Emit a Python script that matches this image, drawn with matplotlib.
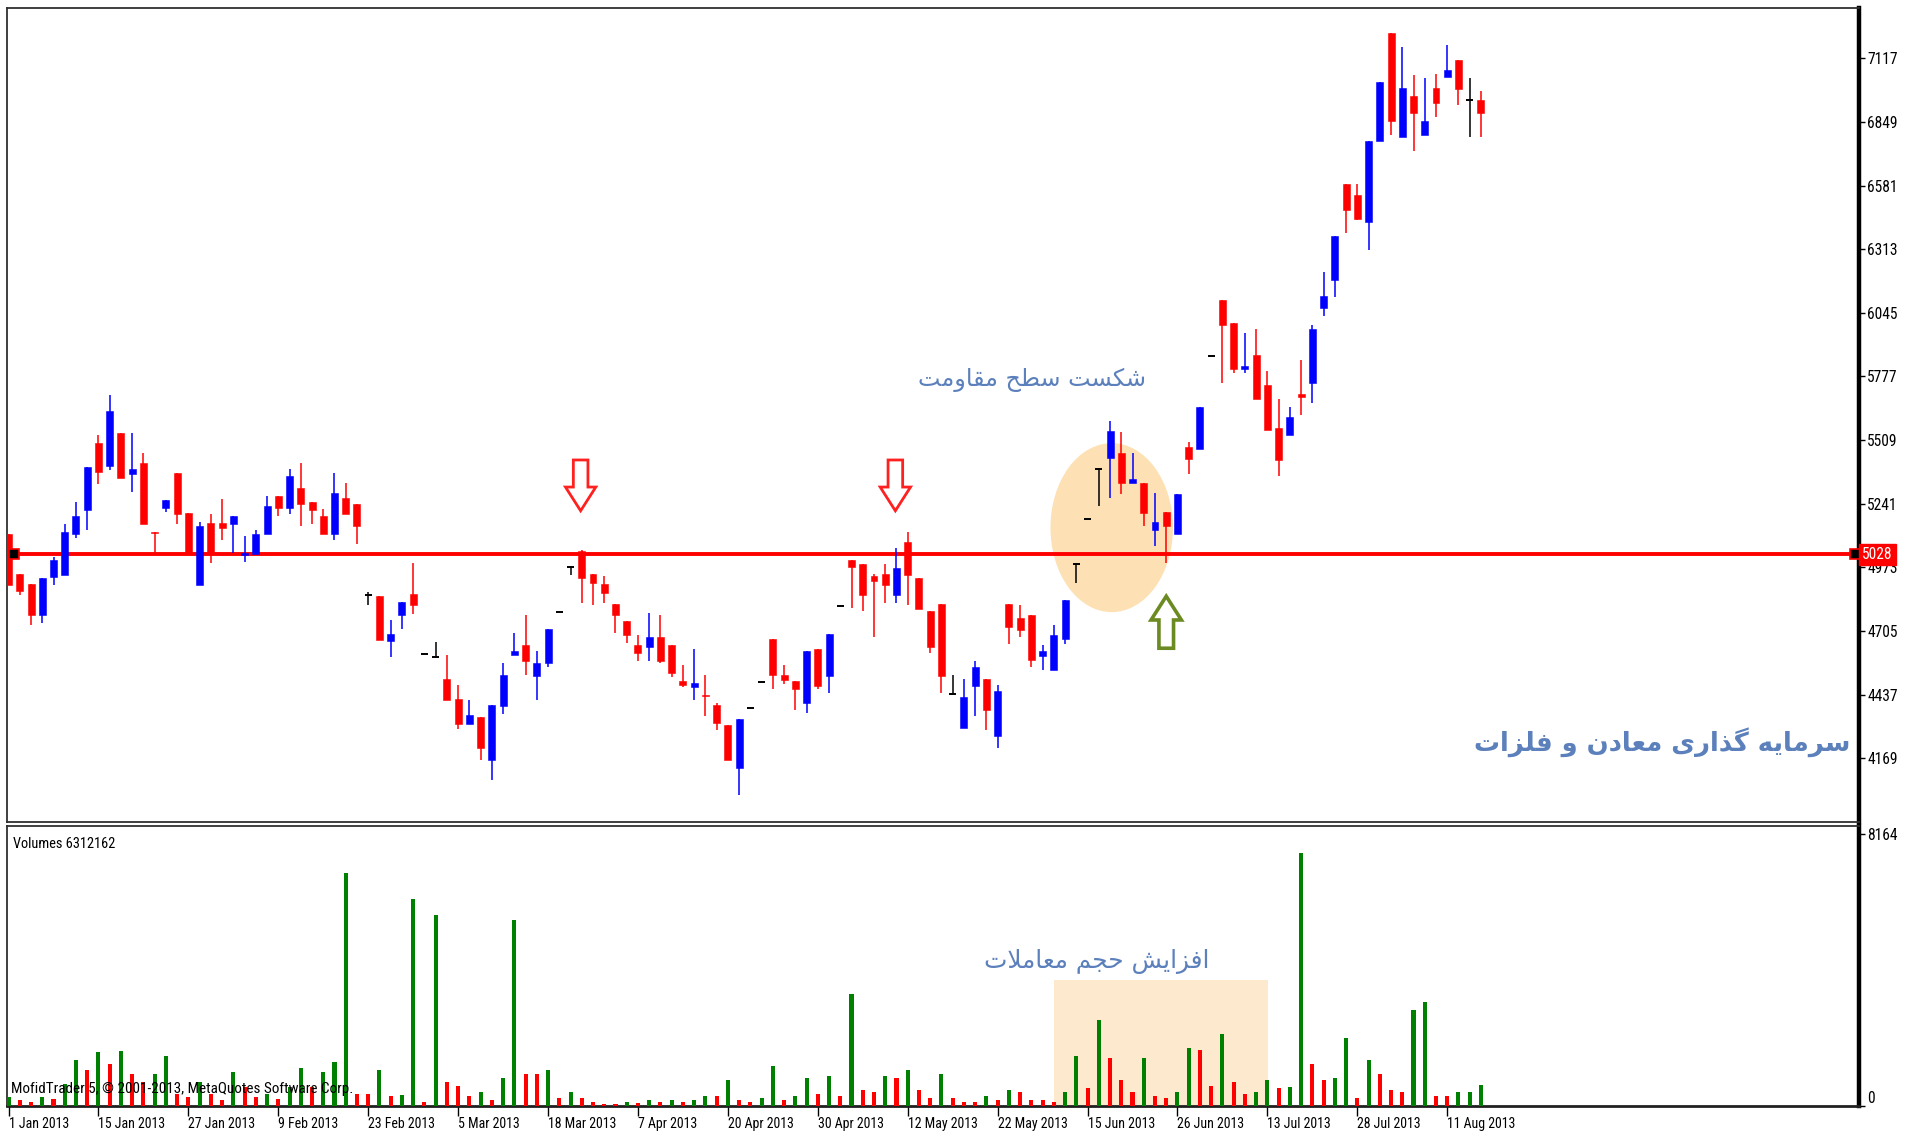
import numpy as np
import matplotlib
matplotlib.use("Agg")
import matplotlib.pyplot as plt
from matplotlib import font_manager as fm
from matplotlib.patches import Ellipse, Rectangle, FancyArrow

# ---------------- data ----------------
date_labels = ['1 Jan 2013', '15 Jan 2013', '27 Jan 2013', '9 Feb 2013', '23 Feb 2013',
               '5 Mar 2013', '18 Mar 2013', '7 Apr 2013', '20 Apr 2013', '30 Apr 2013',
               '12 May 2013', '22 May 2013', '15 Jun 2013', '26 Jun 2013', '13 Jul 2013',
               '28 Jul 2013', '11 Aug 2013']
date_label_bars = [0, 8, 16, 24, 32, 40, 48, 56, 64, 72, 80, 88, 96, 104, 112, 120, 128]

opens = [5112, 4946, 4904, 4771, 4932, 4939, 5115, 5216, 5497, 5399,
         5539, 5365, 5413, 5120, 5223, 5372, 5203, 4897, 5161, 5161,
         5157, 5025, 5031, 5115, 5272, 5223, 5305, 5248, 5188, 5115,
         5263, 5239, 4855, 4852, 4663, 4774, 4862, 4609, 4595, 4504,
         4420, 4312, 4343, 4160, 4387, 4605, 4644, 4514, 4571, 4785,
         4974, 5040, 4946, 4904, 4820, 4747, 4644, 4637, 4680, 4644,
         4494, 4469, 4435, 4394, 4310, 4128, 4382, 4490, 4670, 4518,
         4493, 4403, 4628, 4514, 4809, 5003, 4988, 4935, 4944, 4855,
         5080, 4928, 4788, 4820, 4441, 4296, 4473, 4501, 4261, 4820,
         4761, 4771, 4598, 4539, 4670, 4986, 5178, 5386, 5434, 5455,
         5326, 5329, 5132, 5204, 5115, 5480, 5473, 5862, 6098, 6000,
         5810, 5867, 5740, 5558, 5532, 5705, 5750, 6067, 6185, 6586,
         6543, 6428, 6770, 7222, 6786, 6959, 6796, 6993, 7039, 7110,
         6941, 6941]
highs = [5112, 4946, 4904, 4928, 5017, 5154, 5246, 5396, 5532, 5698,
         5539, 5539, 5455, 5120, 5255, 5372, 5203, 5164, 5196, 5262,
         5188, 5105, 5129, 5272, 5272, 5389, 5413, 5248, 5220, 5372,
         5330, 5239, 4869, 4852, 4753, 4827, 4989, 4609, 4659, 4605,
         4479, 4413, 4343, 4392, 4570, 4696, 4771, 4621, 4712, 4785,
         4974, 5045, 4946, 4937, 4820, 4747, 4687, 4781, 4771, 4644,
         4560, 4630, 4518, 4401, 4310, 4336, 4382, 4490, 4670, 4560,
         4493, 4619, 4628, 4694, 4809, 5003, 4988, 4946, 4988, 5056,
         5122, 4928, 4788, 4820, 4518, 4504, 4578, 4501, 4479, 4820,
         4813, 4771, 4645, 4729, 4837, 4986, 5178, 5386, 5590, 5541,
         5456, 5329, 5288, 5204, 5280, 5499, 5649, 5862, 6098, 6000,
         5958, 5975, 5799, 5681, 5649, 5848, 5993, 6218, 6368, 6586,
         6586, 6770, 7018, 7222, 7163, 7046, 7036, 7053, 7173, 7110,
         7035, 6979]
lows = [4897, 4855, 4729, 4739, 4897, 4939, 5098, 5132, 5323, 5382,
        5350, 5291, 5157, 5034, 5206, 5154, 5031, 4897, 4989, 5090,
        5035, 4996, 5031, 5115, 5188, 5199, 5147, 5157, 5115, 5090,
        5199, 5073, 4813, 4666, 4595, 4712, 4778, 4609, 4595, 4413,
        4293, 4312, 4160, 4076, 4354, 4605, 4521, 4413, 4553, 4785,
        4939, 4823, 4813, 4823, 4696, 4654, 4578, 4578, 4570, 4511,
        4469, 4413, 4347, 4286, 4163, 4012, 4382, 4490, 4462, 4480,
        4370, 4361, 4462, 4445, 4809, 4803, 4789, 4680, 4823, 4823,
        4813, 4796, 4613, 4445, 4441, 4296, 4345, 4286, 4212, 4648,
        4680, 4553, 4539, 4539, 4648, 4907, 5178, 5230, 5265, 5281,
        5326, 5147, 5063, 4989, 5115, 5365, 5473, 5862, 5750, 5792,
        5792, 5680, 5551, 5357, 5532, 5614, 5666, 6032, 6110, 6383,
        6435, 6309, 6770, 6793, 6786, 6727, 6796, 6871, 7039, 6920,
        6786, 6786]
closes = [4897, 4873, 4771, 4928, 5005, 5122, 5188, 5396, 5375, 5632,
          5350, 5389, 5157, 5117, 5255, 5199, 5031, 5147, 5031, 5140,
          5188, 5032, 5112, 5230, 5223, 5357, 5241, 5213, 5115, 5288,
          5199, 5147, 4855, 4666, 4694, 4827, 4813, 4609, 4595, 4413,
          4312, 4352, 4212, 4392, 4518, 4621, 4578, 4570, 4712, 4785,
          4974, 4928, 4907, 4865, 4771, 4689, 4614, 4680, 4578, 4529,
          4476, 4486, 4430, 4319, 4163, 4336, 4382, 4490, 4521, 4497,
          4462, 4619, 4472, 4694, 4809, 4974, 4855, 4914, 4897, 4970,
          4939, 4796, 4637, 4514, 4441, 4427, 4553, 4370, 4452, 4722,
          4708, 4582, 4621, 4687, 4837, 4986, 5178, 5386, 5548, 5326,
          5347, 5200, 5162, 5147, 5280, 5431, 5649, 5862, 5993, 5808,
          5822, 5680, 5551, 5424, 5607, 5691, 5975, 6115, 6368, 6478,
          6442, 6770, 7018, 6854, 6993, 6888, 6852, 6930, 7067, 6987,
          6941, 6888]
# volumes in millions of shares
volumes = [2.7, 1.7, 1.2, 2.7, 2.2, 6.7, 13.9, 10.9, 16.3, 12.7,
           16.4, 9.7, 7.2, 9.7, 15.1, 3.7, 2.7, 7.2, 3.7, 1.7,
           10.2, 5.7, 2.7, 3.7, 2.2, 5.7, 11.5, 5.7, 10.2, 13.2,
           69.9, 3.7, 3.5, 10.9, 3.1, 3.3, 62.1, 1.2, 57.3, 7.3,
           6.1, 3.1, 4.2, 1.9, 8.5, 55.6, 9.7, 9.6, 10.9, 2.5,
           4.2, 2.5, 1.2, 0.7, 0.6, 1.2, 1.0, 1.9, 1.2, 1.9,
           1.2, 1.9, 3.1, 3.0, 7.9, 1.9, 1.2, 2.5, 12.1, 1.9,
           3.1, 8.5, 3.7, 9.1, 3.1, 33.6, 4.9, 4.2, 9.1, 8.5,
           10.9, 4.9, 2.5, 9.7, 2.5, 1.2, 1.1, 3.1, 1.9, 4.9,
           4.2, 1.9, 1.8, 1.2, 4.2, 15.1, 5.5, 25.8, 14.5, 7.9,
           4.2, 14.5, 3.1, 2.5, 4.2, 17.5, 16.9, 6.1, 21.7, 7.3,
           3.7, 4.2, 7.9, 5.5, 5.6, 75.7, 12.7, 7.9, 8.5, 20.4,
           2.5, 13.9, 9.7, 4.9, 4.2, 28.8, 31.2, 3.1, 3.0, 4.2,
           4.3, 6.3]
last_volume = 6312162
volume_scale_label = '8164'
volume_scale_value = 81.64

price_ticks = [7117, 6849, 6581, 6313, 6045, 5777, 5509, 5241, 4973, 4705, 4437, 4169]
resistance_level = 5028

title_fa = 'سرمایه گذاری معادن و فلزات'
note_break_fa = 'شکست سطح مقاومت'
note_volume_fa = 'افزایش حجم معاملات'

sell_arrow_bars = [50.9, 78.9]
buy_arrow_bar = 103.0

# ---------------- Persian shaping (visual order for left-to-right renderer) ----------------
AR_FORMS = {
    '\u0627': ('\uFE8D', '\uFE8E', None, None),
    '\u062A': ('\uFE95', '\uFE96', '\uFE97', '\uFE98'),
    '\u062C': ('\uFE9D', '\uFE9E', '\uFE9F', '\uFEA0'),
    '\u062D': ('\uFEA1', '\uFEA2', '\uFEA3', '\uFEA4'),
    '\u062F': ('\uFEA9', '\uFEAA', None, None),
    '\u0630': ('\uFEAB', '\uFEAC', None, None),
    '\u0631': ('\uFEAD', '\uFEAE', None, None),
    '\u0632': ('\uFEAF', '\uFEB0', None, None),
    '\u0633': ('\uFEB1', '\uFEB2', '\uFEB3', '\uFEB4'),
    '\u0634': ('\uFEB5', '\uFEB6', '\uFEB7', '\uFEB8'),
    '\u0637': ('\uFEC1', '\uFEC2', '\uFEC3', '\uFEC4'),
    '\u0639': ('\uFEC9', '\uFECA', '\uFECB', '\uFECC'),
    '\u0641': ('\uFED1', '\uFED2', '\uFED3', '\uFED4'),
    '\u0642': ('\uFED5', '\uFED6', '\uFED7', '\uFED8'),
    '\u0644': ('\uFEDD', '\uFEDE', '\uFEDF', '\uFEE0'),
    '\u0645': ('\uFEE1', '\uFEE2', '\uFEE3', '\uFEE4'),
    '\u0646': ('\uFEE5', '\uFEE6', '\uFEE7', '\uFEE8'),
    '\u0647': ('\uFEE9', '\uFEEA', '\uFEEB', '\uFEEC'),
    '\u0648': ('\uFEED', '\uFEEE', None, None),
    '\u06A9': ('\uFB8E', '\uFB8F', '\uFB90', '\uFB91'),
    '\u06AF': ('\uFB92', '\uFB93', '\uFB94', '\uFB95'),
    '\u06CC': ('\uFBFC', '\uFBFD', '\uFBFE', '\uFBFF'),
}


def _fwd(ch):
    return ch in AR_FORMS and AR_FORMS[ch][2] is not None


def shape_fa(text):
    out = []
    n = len(text)
    k = 0
    while k < n:
        ch = text[k]
        if ch not in AR_FORMS:
            out.append(ch)
            k += 1
            continue
        prev = text[k - 1] if k > 0 else None
        jp = prev is not None and _fwd(prev)
        if ch == '\u0644' and k + 1 < n and text[k + 1] == '\u0627':
            out.append('\uFEFC' if jp else '\uFEFB')
            k += 2
            continue
        nxt = text[k + 1] if k + 1 < n else None
        jn = nxt is not None and nxt in AR_FORMS and _fwd(ch)
        f = AR_FORMS[ch]
        if jp and jn:
            g = f[3]
        elif jp:
            g = f[1]
        elif jn:
            g = f[2]
        else:
            g = f[0]
        out.append(g)
        k += 1
    return ''.join(reversed(out))


# ---------------- fonts ----------------
names = {f.name for f in fm.fontManager.ttflist}
cond_dejavu = any(f.name == 'DejaVu Sans' and f.stretch == 'condensed' for f in fm.fontManager.ttflist)
if 'Liberation Sans Narrow' in names:
    ui_family, ui_stretch, ui_size = 'Liberation Sans Narrow', 'normal', 10.5
elif 'Roboto Condensed' in names:
    ui_family, ui_stretch, ui_size = 'Roboto Condensed', 'normal', 10.0
elif cond_dejavu:
    ui_family, ui_stretch, ui_size = 'DejaVu Sans', 'condensed', 9.0
else:
    ui_family, ui_stretch, ui_size = 'DejaVu Sans', 'normal', 8.2
plt.rcParams['font.family'] = [ui_family, 'DejaVu Sans']
plt.rcParams['font.stretch'] = ui_stretch
scale_size = ui_size * 1.12

# ---------------- figure ----------------
W, H = 1908, 1134
fig = plt.figure(figsize=(W / 100, H / 100), dpi=100, facecolor='white')
ax = fig.add_axes([0.00383, 0.27513, 0.97075, 0.71782])
ax2 = fig.add_axes([0.00383, 0.02469, 0.97075, 0.24691], sharex=ax)

x = np.arange(len(opens))
o = np.array(opens, float)
h = np.array(highs, float)
l = np.array(lows, float)
c = np.array(closes, float)
colors = np.where(c > o, '#0000ff', np.where(c < o, '#ff0000', '#000000'))

# highlight ellipse (behind candles)
ax.add_patch(Ellipse((98.15, 5140), 10.9, 712, facecolor='#fde1b4', edgecolor='none', zorder=1))

# resistance level
ax.axhline(resistance_level, color='#ff0000', lw=2.8, zorder=2)
ax.plot([0.0035, 0.9975], [resistance_level] * 2, 's', ms=6.5, mfc='black', mec='#ff0000', mew=1.2,
        transform=ax.get_yaxis_transform(), clip_on=False, zorder=6)

# candles
ax.vlines(x, l, h, colors=colors, lw=1.1, zorder=3)
body = np.abs(c - o)
m = body > 0
ax.bar(x[m], body[m], bottom=np.minimum(o, c)[m], width=0.62, color=colors[m],
       edgecolor=colors[m], lw=0.4, zorder=4)
d = ~m
ax.hlines(o[d], x[d] - 0.31, x[d] + 0.31, colors='black', lw=1.4, zorder=4)

# arrows
for xb in sell_arrow_bars:
    ax.add_patch(FancyArrow(xb, 5425, 0, -214, width=1.3, head_width=2.7, head_length=100,
                            length_includes_head=True, facecolor='white', edgecolor='#ff2020',
                            lw=2.0, zorder=5))
ax.add_patch(FancyArrow(buy_arrow_bar, 4632, 0, 219, width=1.3, head_width=2.7, head_length=100,
                        length_includes_head=True, facecolor='white', edgecolor='#6b8a22',
                        lw=2.6, zorder=5))

ax.set_xlim(-0.11, 164.68)
ax.set_ylim(3900, 7329)

# price axis styling
ax.yaxis.tick_right()
ax.set_yticks(price_ticks)
ax.set_yticklabels([str(t) for t in price_ticks])
ax.tick_params(axis='y', direction='out', length=4, width=1, pad=1.5, labelsize=scale_size, colors='black')
ax.tick_params(axis='x', bottom=False, labelbottom=False)
for s in ['left', 'top', 'bottom']:
    ax.spines[s].set_color('#303030')
    ax.spines[s].set_linewidth(1.3)
ax.spines['right'].set_color('black')
ax.spines['right'].set_linewidth(3.2)

# level label on price scale
ax.text(1.0015, resistance_level, str(resistance_level), transform=ax.get_yaxis_transform(),
        ha='left', va='center', color='white', fontsize=scale_size, zorder=10, clip_on=False,
        bbox=dict(boxstyle='square,pad=0.18', facecolor='#ff0000', edgecolor='#ff0000'))

# ---------------- volume panel ----------------
vcols = ['#008000'] + ['#008000' if volumes[k] > volumes[k - 1] else '#ff0000'
                       for k in range(1, len(volumes))]
ax2.add_patch(Rectangle((93.0, 0), 19.05, 37.7, facecolor='#fde9cd', edgecolor='none', zorder=1))
ax2.bar(x, volumes, width=0.36, color=vcols, zorder=3)
ax2.set_ylim(0, 83.9)
ax2.yaxis.tick_right()
ax2.set_yticks([0, volume_scale_value])
ax2.set_yticklabels(['0', volume_scale_label])
ax2.tick_params(axis='y', direction='out', length=4, width=1, pad=1.5, labelsize=scale_size)
ylbls = ax2.get_yticklabels()
ylbls[0].set_va('bottom')
ax2.set_xticks(date_label_bars)
ax2.set_xticklabels(date_labels)
ax2.tick_params(axis='x', direction='out', length=7, width=1, pad=1, labelsize=ui_size)
for lbl in ax2.get_xticklabels():
    lbl.set_ha('left')
for s in ['left', 'top']:
    ax2.spines[s].set_color('#303030')
    ax2.spines[s].set_linewidth(1.3)
ax2.spines['bottom'].set_color('#202020')
ax2.spines['bottom'].set_linewidth(2.0)
ax2.spines['right'].set_color('black')
ax2.spines['right'].set_linewidth(3.2)

ax2.text(0.003, 0.96, 'Volumes %d' % last_volume, transform=ax2.transAxes, ha='left', va='top',
         fontsize=ui_size * 1.04, color='black', zorder=6)
ax2.text(0.002, 0.035, 'MofidTrader 5, \u00a9 2001-2013, MetaQuotes Software Corp.',
         transform=ax2.transAxes, ha='left', va='bottom', fontsize=ui_size * 1.09, color='black', zorder=6)

# ---------------- Persian annotations ----------------
fa_color = '#5b80bb'
fig.text(1032 / W, 1 - 380 / H, shape_fa(note_break_fa), ha='center', va='center',
         fontsize=17.2, color=fa_color, family=['DejaVu Sans'], stretch='normal')
fig.text(1662 / W, 1 - 742 / H, shape_fa(title_fa), ha='center', va='center',
         fontsize=18.6, fontweight='bold', color=fa_color, family=['DejaVu Sans'], stretch='normal')
fig.text(1097 / W, 1 - 962 / H, shape_fa(note_volume_fa), ha='center', va='center',
         fontsize=17.8, color=fa_color, family=['DejaVu Sans'], stretch='normal')

fig.savefig('out.png', dpi=100, facecolor='white')
